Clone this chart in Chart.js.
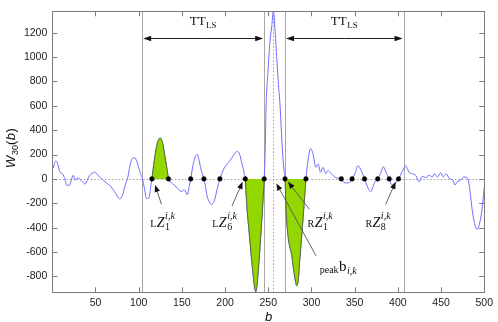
<!DOCTYPE html>
<html lang="en">
<head>
<meta charset="UTF-8">
<title>W30(b)</title>
<script src="https://cdn.jsdelivr.net/npm/chart.js"></script>
<style>
  html, body { margin: 0; padding: 0; background: #fff; }
  #wrap { width: 498px; height: 322px; }
</style>
</head>
<body>
<div id="wrap"><canvas id="chart"></canvas></div>
<script>
// signal W30(b)
const bPos = [1, 4, 6, 9, 12, 14.5, 16.5, 20, 22, 24, 27, 29, 31.5, 35, 38, 41, 43.5, 46, 49, 53, 56, 59, 62, 66, 69, 72, 75, 78, 81.5, 84, 87.5, 90, 92, 95, 98, 100, 102, 104, 107, 109, 112, 114,
  115.3, 118, 120, 122, 125, 127.5, 130, 132.5, 134.5, 137, 141, 145, 149, 153, 156.3, 158.5, 160.2, 162, 164, 166, 168, 170, 171.6, 173.5, 175.5, 177.5, 179.3, 182, 184, 186, 188, 191, 194,
  198.5, 201, 204, 208, 211, 213.8, 216, 217.6, 219, 220.7, 222.2, 223.4, 225, 228, 231, 234, 235.5, 237, 239, 241, 243, 245.3, 246.4, 247.5, 249.5, 252, 254, 256, 258, 259.8, 261.5, 263.7,
  265, 266.7, 268, 269.4, 271, 273.2, 275, 277, 279, 281, 282.8, 284.7, 286.5, 288.5, 291, 293.6, 296, 299, 302, 305, 307.7, 310.4, 313.5, 316.5, 319, 323, 327, 331, 334.5, 338.4, 342, 345,
  347, 351, 353.7, 357.5, 361.4, 364, 366.4, 369, 371, 374, 376.7, 380.5, 383.2, 386.2, 390, 393, 396.5, 398.5, 400.8, 404.6, 407.5, 409.2, 411, 413, 417, 420.7, 424.6, 428.4, 432, 436, 440,
  442, 446, 449.5, 452.6, 456, 460, 463.7, 466, 468.7, 472.6, 476.3, 480, 482, 484, 486, 488.5, 491.6, 494, 497.4, 500];
const wVal = [90, 148, 130, 55, 40, 0, -50, -52, -10, 30, -8, 5, 2, -24, -42, 0, 30, 45, 55, 30, 8, -12, -30, -50, -75, -103, -140, -164, -130, -60, 16, 110, 160, 175, 140, 95, 45, 10, -90, -160, -155, -60,
  0, 150, 240, 305, 335, 300, 200, 95, 0, -24, -50, -77, -103, -90, -130, -60, 0, 80, 148, 190, 200, 150, 95, 45, 0, -70, -143, -190, -209, -200, -170, -77, 0,
  82, 110, 135, 175, 205, 227, 215, 185, 140, 95, 40, 0, -200, -450, -680, -880, -925, -870, -700, -500, -280, 0, 227, 598, 862, 1127, 1250, 1378, 1200, 994, 800, 598,
  420, 201, 90, 0, -300, -487, -560, -619, -725, -820, -875, -831, -660, -487, -250, 0, 150, 250, 200, 95, 123, 55, 95, 42, 68, 42, 16, 5, 0, -32, -32, -24,
  0, 55, 108, 68, 0, -50, -90, -103, -64, -20, 0, 55, 100, 55, 0, -50, -45, -20, 0, 55, 95, 108, 85, 55, 42, 29, -24, 21, 11, 29, 16,
  42, 16, 50, 16, 42, 0, -8, -50, -24, -11, 16, 11, -24, -130, -250, -355, -413, -381, -250, -70];

// zero crossings marked with dots, shaded lobes, TT_LS windows
const zeroCross = [115.3, 134.5, 160.2, 175.5, 194, 223.4, 245.3, 269.4, 293.6, 334.5, 347, 361.4, 376.7, 390, 400.8];
const lobeRanges = [[115.3, 134.5], [223.4, 245.3], [269.4, 293.6]];
const ttWindows = [[104, 245.3], [269.4, 406.6]];
const peakB = 256;

const xTicks = [50, 100, 150, 200, 250, 300, 350, 400, 450, 500];
const yTicks = [-800, -600, -400, -200, 0, 200, 400, 600, 800, 1000, 1200];

const pts = bPos.map((b, i) => ({ x: b, y: wVal[i] }));

const SERIF = '"Liberation Serif", "DejaVu Serif", serif';
const SANS = '"Liberation Sans", Arial, sans-serif';

// draws a run of text pieces, each may carry a sub- and/or superscript
function mathRun(ctx, items) {
  let w = 0;
  items.forEach(it => {
    ctx.font = it.f;
    w += ctx.measureText(it.t).width + 0.5;
    let extra = 0;
    if (it.sub) { ctx.font = it.subF; extra = Math.max(extra, ctx.measureText(it.sub).width); }
    if (it.sup) { ctx.font = it.supF; extra = Math.max(extra, ctx.measureText(it.sup).width); }
    w += extra;
  });
  return w;
}
function drawMath(ctx, cx, y, items) {
  let x = cx - mathRun(ctx, items) / 2;
  ctx.textAlign = 'left';
  ctx.textBaseline = 'alphabetic';
  items.forEach(it => {
    ctx.font = it.f;
    ctx.fillText(it.t, x, y + (it.dy || 0));
    x += ctx.measureText(it.t).width + 0.5;
    let extra = 0;
    if (it.sub) {
      ctx.font = it.subF;
      ctx.fillText(it.sub, x, y + 3);
      extra = Math.max(extra, ctx.measureText(it.sub).width);
    }
    if (it.sup) {
      ctx.font = it.supF;
      ctx.fillText(it.sup, x, y - 8);
      extra = Math.max(extra, ctx.measureText(it.sup).width);
    }
    x += extra;
  });
}

function arrow(ctx, x1, y1, x2, y2, head) {
  const ang = Math.atan2(y2 - y1, x2 - x1);
  const len = head || 7, hw = 2.8;
  ctx.beginPath();
  ctx.moveTo(x1, y1);
  ctx.lineTo(x2 - Math.cos(ang) * len * 0.8, y2 - Math.sin(ang) * len * 0.8);
  ctx.stroke();
  ctx.beginPath();
  ctx.moveTo(x2, y2);
  ctx.lineTo(x2 - Math.cos(ang) * len - Math.sin(ang) * hw, y2 - Math.sin(ang) * len + Math.cos(ang) * hw);
  ctx.lineTo(x2 - Math.cos(ang) * len + Math.sin(ang) * hw, y2 - Math.sin(ang) * len - Math.cos(ang) * hw);
  ctx.closePath();
  ctx.fill();
}

const zLabel = (pre, n) => [
  { t: pre, f: '10px ' + SERIF },
  { t: 'Z', f: 'italic 14px ' + SERIF, sub: n, subF: '10px ' + SERIF, sup: 'i,k', supF: 'italic 10px ' + SERIF }
];
// pointer annotations, in data units
const notes = [
  { tip: [119, -50], tail: [126.4, -209], at: [127.6, -395], label: zLabel('L', '1') },
  { tip: [220.3, -24], tail: [208, -222], at: [199.4, -395], label: zLabel('L', '6') },
  { tip: [272.8, -24], tail: [297.7, -249], at: [310, -395], label: zLabel('R', '1') },
  { tip: [397.4, -24], tail: [385.9, -209], at: [377, -395], label: zLabel('R', '8') },
  { tip: [259.4, -37], tail: [305.4, -632], at: [331, -752],
    label: [{ t: 'peak', f: '10px ' + SERIF, dy: 2 }, { t: 'b', f: '15px ' + SERIF, sub: 'i,k', subF: 'italic 10px ' + SERIF }] }
];

const decor = {
  id: 'decor',
  beforeDatasetsDraw(chart) {
    const { ctx, chartArea: a, scales: { x, y } } = chart;
    ctx.save();
    ctx.lineWidth = 1;
    // dotted zero line and dotted peak line
    ctx.strokeStyle = '#a0a0a0';
    ctx.setLineDash([1.5, 2]);
    const y0 = Math.round(y.getPixelForValue(0)) + 0.5;
    ctx.beginPath(); ctx.moveTo(a.left, y0); ctx.lineTo(a.right, y0); ctx.stroke();
    const xp = Math.round(x.getPixelForValue(peakB)) + 0.5;
    ctx.beginPath(); ctx.moveTo(xp, a.top); ctx.lineTo(xp, a.bottom); ctx.stroke();
    ctx.setLineDash([]);
    // window boundaries
    ctx.strokeStyle = '#a8a8a8';
    ttWindows.flat().forEach(b => {
      const px = Math.round(x.getPixelForValue(b)) + 0.5;
      ctx.beginPath(); ctx.moveTo(px, a.top); ctx.lineTo(px, a.bottom); ctx.stroke();
    });
    ctx.restore();
  },
  afterDatasetsDraw(chart) {
    const { ctx, chartArea: a, scales: { x, y } } = chart;
    ctx.save();
    // frame with inward ticks
    ctx.strokeStyle = '#7a7a7a';
    ctx.lineWidth = 1;
    ctx.strokeRect(Math.round(a.left) + 0.5, Math.round(a.top) + 0.5, Math.round(a.width), Math.round(a.height));
    ctx.beginPath();
    xTicks.forEach(v => {
      const px = Math.round(x.getPixelForValue(v)) + 0.5;
      ctx.moveTo(px, a.bottom); ctx.lineTo(px, a.bottom - 5);
      ctx.moveTo(px, a.top); ctx.lineTo(px, a.top + 5);
    });
    yTicks.forEach(v => {
      const py = Math.round(y.getPixelForValue(v)) + 0.5;
      ctx.moveTo(a.left, py); ctx.lineTo(a.left + 5, py);
      ctx.moveTo(a.right, py); ctx.lineTo(a.right - 5, py);
    });
    ctx.stroke();

    // TT_LS spans
    ctx.strokeStyle = '#222';
    ctx.fillStyle = '#111';
    ctx.lineWidth = 1;
    const ya = Math.round(y.getPixelForValue(1160)) + 0.5;
    ttWindows.forEach(([b1, b2]) => {
      const p1 = x.getPixelForValue(b1) + 1, p2 = x.getPixelForValue(b2) - 1;
      const mid = (p1 + p2) / 2;
      arrow(ctx, mid, ya, p1, ya, 8);
      arrow(ctx, mid, ya, p2, ya, 8);
      drawMath(ctx, mid, y.getPixelForValue(1265), [
        { t: 'TT', f: '13px ' + SERIF, sub: 'LS', subF: '9px ' + SERIF }
      ]);
    });

    // pointer notes
    notes.forEach(n => {
      ctx.strokeStyle = '#555';
      ctx.fillStyle = '#111';
      ctx.lineWidth = 0.9;
      arrow(ctx, x.getPixelForValue(n.tail[0]), y.getPixelForValue(n.tail[1]),
        x.getPixelForValue(n.tip[0]), y.getPixelForValue(n.tip[1]), 7);
      drawMath(ctx, x.getPixelForValue(n.at[0]), y.getPixelForValue(n.at[1]), n.label);
    });

    // axis titles
    ctx.fillStyle = '#111';
    drawMath(ctx, (a.left + a.right) / 2 + 0.5, 321, [{ t: 'b', f: 'italic 13px ' + SANS }]);
    ctx.translate(15, (a.top + a.bottom) / 2 - 4);
    ctx.rotate(-Math.PI / 2);
    drawMath(ctx, 0, 0, [
      { t: 'W', f: 'italic 13px ' + SANS, sub: '30', subF: '9px ' + SANS },
      { t: '(', f: '13px ' + SANS },
      { t: 'b', f: 'italic 13px ' + SANS },
      { t: ')', f: '13px ' + SANS }
    ]);
    ctx.restore();
  }
};

const lobeSets = lobeRanges.map(([lo, hi]) => ({
  data: pts.filter(p => p.x >= lo - 0.01 && p.x <= hi + 0.01),
  borderColor: '#4b5a22',
  borderWidth: 0.8,
  backgroundColor: '#94d600',
  fill: 'origin',
  pointRadius: 0,
  cubicInterpolationMode: 'monotone',
  order: 1
}));

new Chart(document.getElementById('chart'), {
  type: 'line',
  data: {
    datasets: [
      {
        data: pts,
        borderColor: '#6e6eff',
        borderWidth: 1,
        pointRadius: 0,
        fill: false,
        cubicInterpolationMode: 'monotone',
        order: 2
      },
      ...lobeSets,
      {
        data: zeroCross.map(b => ({ x: b, y: 0 })),
        showLine: false,
        pointRadius: 2.3,
        pointBorderWidth: 0.5,
        pointBackgroundColor: '#000',
        pointBorderColor: '#000',
        order: 0
      }
    ]
  },
  options: {
    responsive: true,
    maintainAspectRatio: false,
    animation: false,
    layout: { padding: { top: 2, right: 10.7, left: 0, bottom: 0 } },
    plugins: { legend: { display: false }, tooltip: { enabled: false } },
    scales: {
      x: {
        type: 'linear',
        min: 0,
        max: 500,
        afterBuildTicks: s => { s.ticks = xTicks.map(v => ({ value: v })); },
        afterFit: s => { s.height = 29.7; },
        grid: { display: false, drawTicks: false },
        border: { display: false },
        ticks: { padding: 5, color: '#222', font: { family: SANS, size: 10.5 }, maxRotation: 0, callback: v => String(v) }
      },
      y: {
        min: -930,
        max: 1375,
        afterBuildTicks: s => { s.ticks = yTicks.map(v => ({ value: v })); },
        afterFit: s => { s.width = 52.3; },
        grid: { display: false, drawTicks: false },
        border: { display: false },
        ticks: { padding: 5, color: '#222', font: { family: SANS, size: 10.5 }, callback: v => String(v) }
      }
    }
  },
  plugins: [decor]
});
</script>
</body>
</html>
